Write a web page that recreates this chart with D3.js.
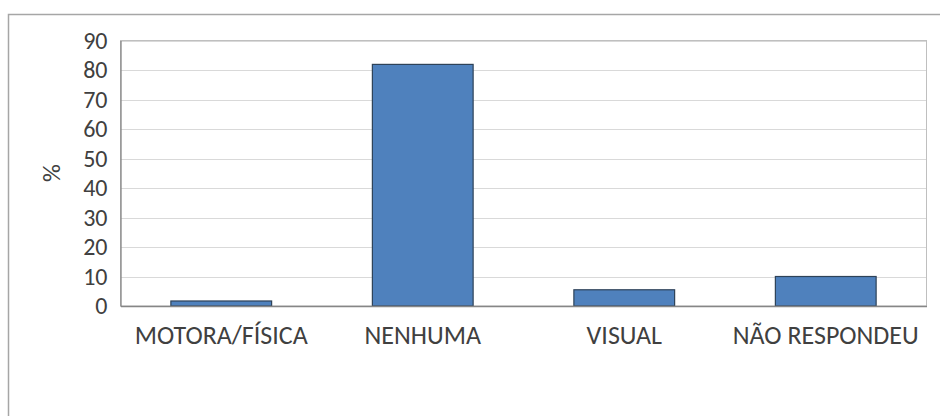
<!DOCTYPE html>
<html lang="pt">
<head>
<meta charset="utf-8">
<script src="https://d3js.org/d3.v7.min.js"></script>
<style>
  body { margin: 0; background: #fff; }
  svg text { font-family: Carlito, "Open Sans", "Noto Sans", sans-serif; fill: #404040; }
</style>
</head>
<body>
<script>
    // data
    const categories = ["MOTORA/FÍSICA", "NENHUMA", "VISUAL", "NÃO RESPONDEU"];
    const values = [1.7, 81.9, 5.5, 10];
    const yTicks = [0, 10, 20, 30, 40, 50, 60, 70, 80, 90];

    const width = 940, height = 416;
    const plotLeft = 120.5, plotRight = 926.5, plotTop = 40.5, plotBottom = 306;

    const svg = d3.select("body").append("svg")
      .attr("width", width).attr("height", height);

    // outer chart border (runs off the right and bottom)
    svg.append("rect")
      .attr("x", 8.5).attr("y", 14.5)
      .attr("width", width).attr("height", height)
      .attr("fill", "none").attr("stroke", "#a6a6a6").attr("stroke-width", 1.5);

    const x = d3.scaleBand().domain(categories).range([plotLeft, plotRight])
      .paddingInner(0.5).paddingOuter(0.25);
    const y = d3.scaleLinear().domain([0, 90]).range([plotBottom, plotTop]);

    // gridlines
    svg.append("g")
      .selectAll("line").data(yTicks.slice(1)).join("line")
      .attr("x1", plotLeft).attr("x2", plotRight)
      .attr("y1", d => Math.round(y(d)) + 0.5).attr("y2", d => Math.round(y(d)) + 0.5)
      .attr("stroke", "#d9d9d9");

    // plot area border
    svg.append("rect")
      .attr("x", plotLeft).attr("y", plotTop)
      .attr("width", plotRight - plotLeft).attr("height", plotBottom - plotTop)
      .attr("fill", "none").attr("stroke", "#bfbfbf");

    // bars
    svg.append("g")
      .selectAll("rect").data(values).join("rect")
      .attr("x", (d, i) => x(categories[i]))
      .attr("width", x.bandwidth())
      .attr("y", d => y(d))
      .attr("height", d => y(0) - y(d))
      .attr("fill", "#4f81bd")
      .attr("stroke", "#2e4258")
      .attr("stroke-width", 1.2);

    // y axis
    const yAxis = svg.append("g")
      .attr("transform", `translate(${plotLeft},0)`)
      .call(d3.axisLeft(y).tickValues(yTicks).tickSize(0).tickPadding(13));
    yAxis.select(".domain").attr("stroke", "#868686").attr("stroke-width", 1.3);
    yAxis.selectAll("text").style("font-size", "24px").attr("fill", "#404040");

    // x axis
    const xAxis = svg.append("g")
      .attr("transform", `translate(0,${plotBottom})`)
      .call(d3.axisBottom(x).tickSize(0).tickPadding(20));
    xAxis.select(".domain").attr("stroke", "#868686").attr("stroke-width", 1.3);
    xAxis.selectAll("text").style("font-size", "26px").attr("fill", "#404040");

    // y title
    svg.append("text")
      .attr("transform", "translate(60,173) rotate(-90)")
      .attr("text-anchor", "middle")
      .style("font-size", "25px")
      .text("%");
</script>
</body>
</html>
